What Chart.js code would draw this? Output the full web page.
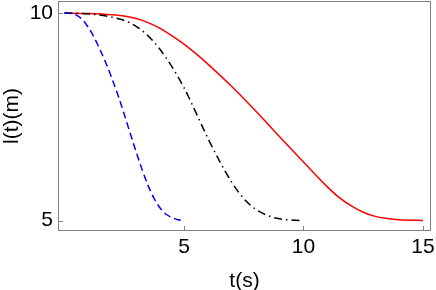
<!DOCTYPE html>
<html>
<head>
<meta charset="utf-8">
<script src="https://cdn.jsdelivr.net/npm/chart.js@4/dist/chart.umd.min.js"></script>
<style>
  html, body { margin: 0; padding: 0; background: #fff; }
  #wrap { width: 436px; height: 290px; position: relative; }
</style>
</head>
<body>
<div id="wrap"><canvas id="lenChart"></canvas></div>
<script>
// ── data ────────────────────────────────────────────────────────────────────
const blueT  = [0, 0.25, 0.5, 0.75, 1.0, 1.25, 1.5, 1.75, 2.0, 2.25, 2.5, 2.75, 3.0, 3.25, 3.5, 3.75, 4.0, 4.25, 4.5, 4.75, 4.95];
const blueL  = [10, 9.99, 9.95, 9.84, 9.65, 9.4, 9.1, 8.77, 8.4, 8.0, 7.56, 7.1, 6.65, 6.22, 5.84, 5.53, 5.3, 5.15, 5.07, 5.02, 5.0];

const blackT = [0, 1, 2, 2.5, 3, 3.5, 4, 4.5, 5, 5.5, 6, 6.5, 7, 7.5, 8, 8.5, 9, 9.5, 10];
const blackL = [10, 9.98, 9.9, 9.82, 9.68, 9.45, 9.12, 8.7, 8.2, 7.6, 6.98, 6.42, 5.92, 5.53, 5.27, 5.12, 5.04, 5.01, 5.0];

const redT   = [0, 1, 2, 2.5, 3, 3.5, 4, 4.5, 5, 5.5, 6, 7, 8, 9, 10, 11, 11.5, 12, 12.5, 13, 13.5, 14, 15];
const redL   = [10, 9.99, 9.96, 9.93, 9.87, 9.77, 9.63, 9.45, 9.25, 9.02, 8.77, 8.23, 7.64, 7.02, 6.41, 5.81, 5.55, 5.35, 5.2, 5.1, 5.05, 5.02, 5.0];

const xTicks = [5, 10, 15];
const yTicks = [5, 10];

const FONT = { family: '"Liberation Sans", Arial, sans-serif', size: 21 };

function pts(ts, ls) {
  return ts.map((t, i) => ({ x: t, y: ls[i] }));
}

function series(ts, ls, color, dash) {
  return {
    data: pts(ts, ls),
    borderColor: color,
    borderWidth: 1.5,
    borderDash: dash,
    pointRadius: 0,
    fill: false,
    cubicInterpolationMode: 'monotone',
  };
}

// Frame on all four sides + inward tick marks (Mathematica style)
const framePlugin = {
  id: 'frame',
  afterDatasetsDraw(chart) {
    const { ctx, chartArea: a, scales: { x, y } } = chart;
    ctx.save();
    ctx.strokeStyle = '#808080';
    ctx.lineWidth = 1;
    ctx.strokeRect(a.left + 0.5, a.top + 0.5, a.right - a.left - 1, a.bottom - a.top - 1);
    ctx.beginPath();
    xTicks.forEach(v => {
      const px = Math.round(x.getPixelForValue(v)) + 0.5;
      ctx.moveTo(px, a.bottom - 1);
      ctx.lineTo(px, a.bottom - 5);
    });
    yTicks.forEach(v => {
      const py = Math.round(y.getPixelForValue(v)) + 0.5;
      ctx.moveTo(a.left + 1, py);
      ctx.lineTo(a.left + 5, py);
    });
    ctx.stroke();
    ctx.restore();
  },
};

new Chart(document.getElementById('lenChart'), {
  type: 'line',
  data: {
    datasets: [
      series(blueT,  blueL,  '#0000ff', [7, 4]),
      series(blackT, blackL, '#000000', [8, 4, 1.5, 4]),
      series(redT,   redL,   '#ff0000', []),
    ],
  },
  options: {
    responsive: true,
    maintainAspectRatio: false,
    animation: false,
    layout: { padding: { top: 1, right: 5, left: 0, bottom: 0 } },
    plugins: {
      legend:  { display: false },
      tooltip: { enabled: false },
    },
    scales: {
      x: {
        type: 'linear',
        min: -0.272,
        max: 15.335,
        afterBuildTicks: s => { s.ticks = xTicks.map(v => ({ value: v })); },
        afterFit: s => { s.height = 59; s.paddingLeft = 0; s.paddingRight = 0; },
        grid:   { display: false, drawTicks: false },
        border: { display: false },
        ticks:  { color: '#000', font: FONT, padding: 4, maxRotation: 0, autoSkip: false },
        title:  { display: true, text: 't(s)', color: '#000', font: FONT, padding: { top: 0, bottom: -4 } },
      },
      y: {
        type: 'linear',
        min: 4.747,
        max: 10.29,
        afterBuildTicks: s => { s.ticks = yTicks.map(v => ({ value: v })); },
        afterFit: s => { s.width = 58; s.paddingTop = 0; s.paddingBottom = 0; },
        grid:   { display: false, drawTicks: false },
        border: { display: false },
        ticks:  { color: '#000', font: FONT, padding: 5, autoSkip: false },
        title:  { display: true, text: 'l(t)(m)', color: '#000', font: FONT, padding: { top: 0, bottom: 0 } },
      },
    },
  },
  plugins: [framePlugin],
});
</script>
</body>
</html>
